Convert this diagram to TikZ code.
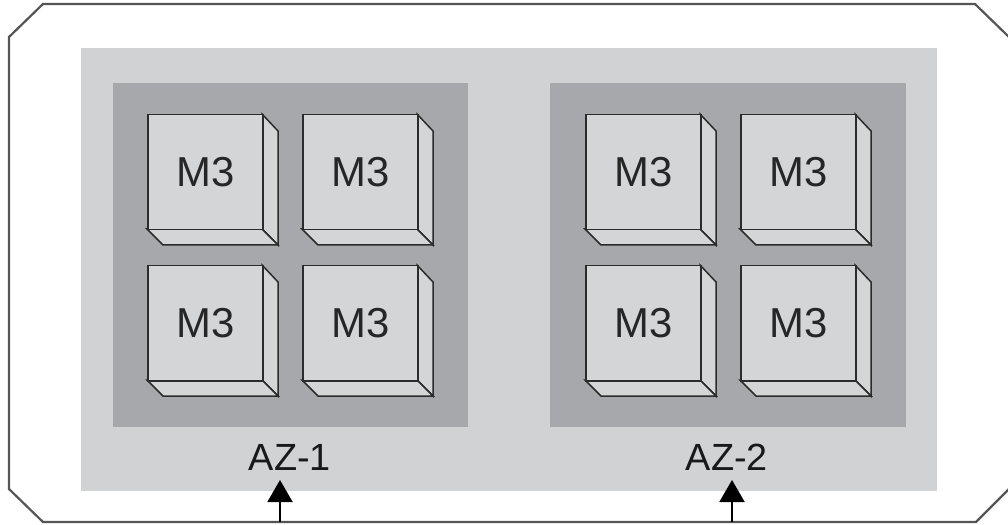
\documentclass[tikz,border=0pt]{standalone}
\usepackage{fontspec}
\setmainfont{Liberation Sans}
\usetikzlibrary{arrows.meta}
\definecolor{lightg}{HTML}{D1D2D4}
\definecolor{darkg}{HTML}{A7A8AB}
\definecolor{cubeg}{HTML}{D4D5D7}
\definecolor{edge}{HTML}{2B2B2B}
\definecolor{frame}{HTML}{555555}
\tikzset{
  azbox/.style={fill=darkg,draw=none},
  cubeface/.style={fill=cubeg,draw=edge,line width=1.5bp,line join=miter},
  cubelabel/.style={font=\fontsize{42}{42}\selectfont,text=black!85},
  azlabel/.style={font=\fontsize{38}{38}\selectfont,text=black!90},
  uparrow/.style={line width=2bp,-{Triangle[width=25bp,length=22bp]}}
}
\newcommand{\mycube}[3]{% x y name
  \begin{scope}[shift={(#1,#2)}]
    \filldraw[cubeface] (115,0) -- (131,17) -- (131,131) -- (115,115) -- cycle;
    \filldraw[cubeface] (0,115) -- (115,115) -- (131,131) -- (16,131) -- cycle;
    \node[cubeface,minimum width=115bp,minimum height=115bp,inner sep=0pt,anchor=north west] (#3) at (0,0) {};
    \node[cubelabel] at (#3.center) {M3};
  \end{scope}
}
\begin{document}
\begin{tikzpicture}[x=1bp,y=-1bp]
\useasboundingbox (0,0) rectangle (1008,525);
\begin{scope}
\clip (0,0) rectangle (1008,525);
\draw[frame,line width=2.2bp,fill=white] (43,4) -- (975,4) -- (1010,38) -- (1010,488) -- (976,522) -- (43,522) -- (9,489) -- (9,37) -- cycle;
\end{scope}
\fill[lightg] (81,48) rectangle (937,491);
\node[azbox,minimum width=355bp,minimum height=344bp,inner sep=0pt,anchor=north west] (az1) at (113,83) {};
\node[azbox,minimum width=356bp,minimum height=344bp,inner sep=0pt,anchor=north west] (az2) at (550,83) {};
\mycube{147}{114}{c11}
\mycube{302}{114}{c12}
\mycube{147}{265}{c21}
\mycube{302}{265}{c22}
\mycube{585}{114}{d11}
\mycube{740}{114}{d12}
\mycube{585}{265}{d21}
\mycube{740}{265}{d22}
\node[azlabel] (l1) at (290,457) {AZ-1};
\node[azlabel] (l2) at (727,457) {AZ-2};
\coordinate (b1) at (280,522);
\coordinate (t1) at (280,480);
\coordinate (b2) at (732,522);
\coordinate (t2) at (732,480);
\draw[uparrow] (b1) -- (t1);
\draw[uparrow] (b2) -- (t2);
\end{tikzpicture}
\end{document}
